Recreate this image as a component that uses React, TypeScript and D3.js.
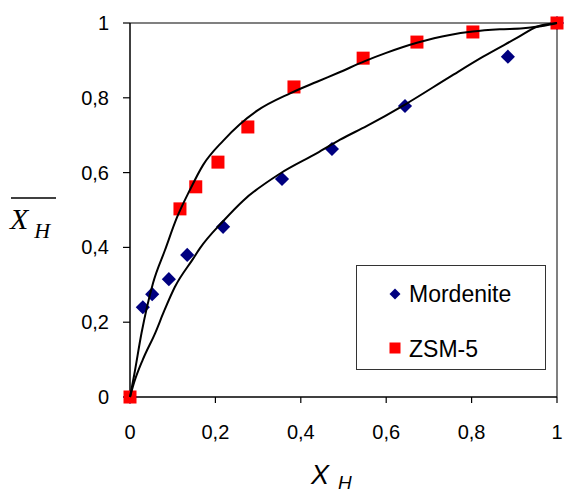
import React, { useRef, useEffect } from "react";
import * as d3 from "d3";

// measured points
const mordeniteX = [0, 0.03, 0.052, 0.091, 0.134, 0.218, 0.356, 0.473, 0.644, 0.885, 1];
const mordeniteY = [0, 0.24, 0.275, 0.315, 0.38, 0.455, 0.583, 0.663, 0.778, 0.91, 1];

const zsmX = [0, 0.117, 0.154, 0.206, 0.276, 0.384, 0.546, 0.672, 0.803, 1];
const zsmY = [0, 0.503, 0.562, 0.628, 0.722, 0.829, 0.906, 0.949, 0.976, 1];

// fitted curves
const fitUpperX = [0, 0.01, 0.027, 0.054, 0.082, 0.11, 0.14, 0.171, 0.218, 0.258, 0.297, 0.375, 0.438, 0.492, 0.55, 0.6, 0.672, 0.749, 0.803, 0.866, 0.921, 0.984, 1];
const fitUpperY = [0, 0.06, 0.171, 0.305, 0.393, 0.48, 0.553, 0.62, 0.685, 0.73, 0.765, 0.812, 0.843, 0.869, 0.898, 0.92, 0.947, 0.968, 0.977, 0.983, 0.986, 0.996, 1];

const fitLowerX = [0, 0.01, 0.03, 0.059, 0.08, 0.105, 0.148, 0.164, 0.218, 0.265, 0.351, 0.438, 0.492, 0.555, 0.644, 0.749, 0.827, 0.906, 0.953, 1];
const fitLowerY = [0, 0.04, 0.1, 0.171, 0.23, 0.294, 0.37, 0.398, 0.47, 0.525, 0.597, 0.652, 0.688, 0.725, 0.782, 0.856, 0.91, 0.96, 0.99, 1];

const tickValues = [0, 0.2, 0.4, 0.6, 0.8, 1];
const legendLabels = ["Mordenite", "ZSM-5"];

const fmt = (d: number) => (d === 0 || d === 1 ? String(d) : d.toFixed(1).replace(".", ","));

const App = () => {
  const svgRef = useRef<SVGSVGElement>(null);

  useEffect(() => {
    document.body.style.margin = "0";
    const svg = d3.select(svgRef.current);
    svg.selectAll("*").remove();

    const x = d3.scaleLinear().domain([0, 1]).range([130, 557]);
    const y = d3.scaleLinear().domain([0, 1]).range([397, 23]);
    const font = "'Liberation Sans', Arial, sans-serif";

    // gray frame top/right
    svg.append("path")
      .attr("d", `M${x(0)},${y(1)}H${x(1)}V${y(0)}`)
      .attr("fill", "none")
      .attr("stroke", "#808080")
      .attr("stroke-width", 2);

    // axes
    const xAxis = svg.append("g").attr("transform", `translate(0,${y(0)})`);
    xAxis.append("line").attr("x1", x(0)).attr("x2", x(1)).attr("stroke", "#000").attr("stroke-width", 1.5);
    xAxis.selectAll("line.tick").data(tickValues).join("line")
      .attr("class", "tick")
      .attr("x1", (d) => x(d)).attr("x2", (d) => x(d))
      .attr("y1", 0).attr("y2", 6)
      .attr("stroke", "#000").attr("stroke-width", 1.2);
    xAxis.selectAll("text").data(tickValues).join("text")
      .attr("x", (d) => x(d)).attr("y", 42)
      .attr("text-anchor", "middle")
      .attr("font-family", font).attr("font-size", 20)
      .text(fmt);

    const yAxis = svg.append("g").attr("transform", `translate(${x(0)},0)`);
    yAxis.append("line").attr("y1", y(0)).attr("y2", y(1)).attr("stroke", "#000").attr("stroke-width", 1.5);
    yAxis.selectAll("line.tick").data(tickValues).join("line")
      .attr("class", "tick")
      .attr("x1", -7).attr("x2", 0)
      .attr("y1", (d) => y(d)).attr("y2", (d) => y(d))
      .attr("stroke", "#000").attr("stroke-width", 1.2);
    yAxis.selectAll("text").data(tickValues).join("text")
      .attr("x", -21).attr("y", (d) => y(d) + 7)
      .attr("text-anchor", "end")
      .attr("font-family", font).attr("font-size", 20)
      .text(fmt);

    // markers
    const diamond = d3.symbol().type(d3.symbolSquare).size(100);
    svg.append("g").selectAll("path")
      .data(mordeniteX.map((v, i) => [v, mordeniteY[i]]))
      .join("path")
      .attr("d", diamond)
      .attr("transform", (d) => `translate(${x(d[0])},${y(d[1])}) rotate(45)`)
      .attr("fill", "#000080");

    svg.append("g").selectAll("rect")
      .data(zsmX.map((v, i) => [v, zsmY[i]]))
      .join("rect")
      .attr("x", (d) => x(d[0]) - 6.5).attr("y", (d) => y(d[1]) - 6.5)
      .attr("width", 13).attr("height", 13)
      .attr("fill", "#ff0000");

    // fit curves
    const line = d3.line<number[]>()
      .x((d) => x(d[0]))
      .y((d) => y(d[1]))
      .curve(d3.curveMonotoneX);
    [
      fitUpperX.map((v, i) => [v, fitUpperY[i]]),
      fitLowerX.map((v, i) => [v, fitLowerY[i]]),
    ].forEach((pts) => {
      svg.append("path")
        .attr("d", line(pts))
        .attr("fill", "none")
        .attr("stroke", "#000")
        .attr("stroke-width", 2);
    });

    // legend
    const lg = svg.append("g");
    lg.append("rect")
      .attr("x", 356.5).attr("y", 265.5).attr("width", 189).attr("height", 104)
      .attr("fill", "#fff").attr("stroke", "#333").attr("stroke-width", 1);
    lg.append("path")
      .attr("d", d3.symbol().type(d3.symbolSquare).size(60))
      .attr("transform", "translate(395,294) rotate(45)")
      .attr("fill", "#000080");
    lg.append("rect")
      .attr("x", 389.5).attr("y", 342.5).attr("width", 11).attr("height", 11)
      .attr("fill", "#ff0000");
    lg.selectAll("text").data(legendLabels).join("text")
      .attr("x", 409)
      .attr("y", (_, i) => 302 + i * 55)
      .attr("font-family", font).attr("font-size", 23)
      .text((d) => d);

    // x label
    const xl = svg.append("text")
      .attr("x", 311).attr("y", 484)
      .attr("font-family", font).attr("font-style", "italic").attr("font-size", 27);
    xl.append("tspan").text("X");
    xl.append("tspan").attr("dx", 9).attr("dy", 5).attr("font-size", 19).text("H");

    // y label with overline
    const yl = svg.append("text")
      .attr("x", 10).attr("y", 229)
      .attr("font-family", "'Liberation Serif', 'Times New Roman', serif")
      .attr("font-style", "italic").attr("font-size", 30);
    yl.append("tspan").text("X");
    yl.append("tspan").attr("dx", 6).attr("dy", 9).attr("font-size", 22).text("H");
    svg.append("line")
      .attr("x1", 11).attr("x2", 56).attr("y1", 198).attr("y2", 198)
      .attr("stroke", "#000").attr("stroke-width", 1.5);
  }, []);

  return <svg ref={svgRef} width={566} height={493} style={{ display: "block" }}></svg>;
};

export default App;
